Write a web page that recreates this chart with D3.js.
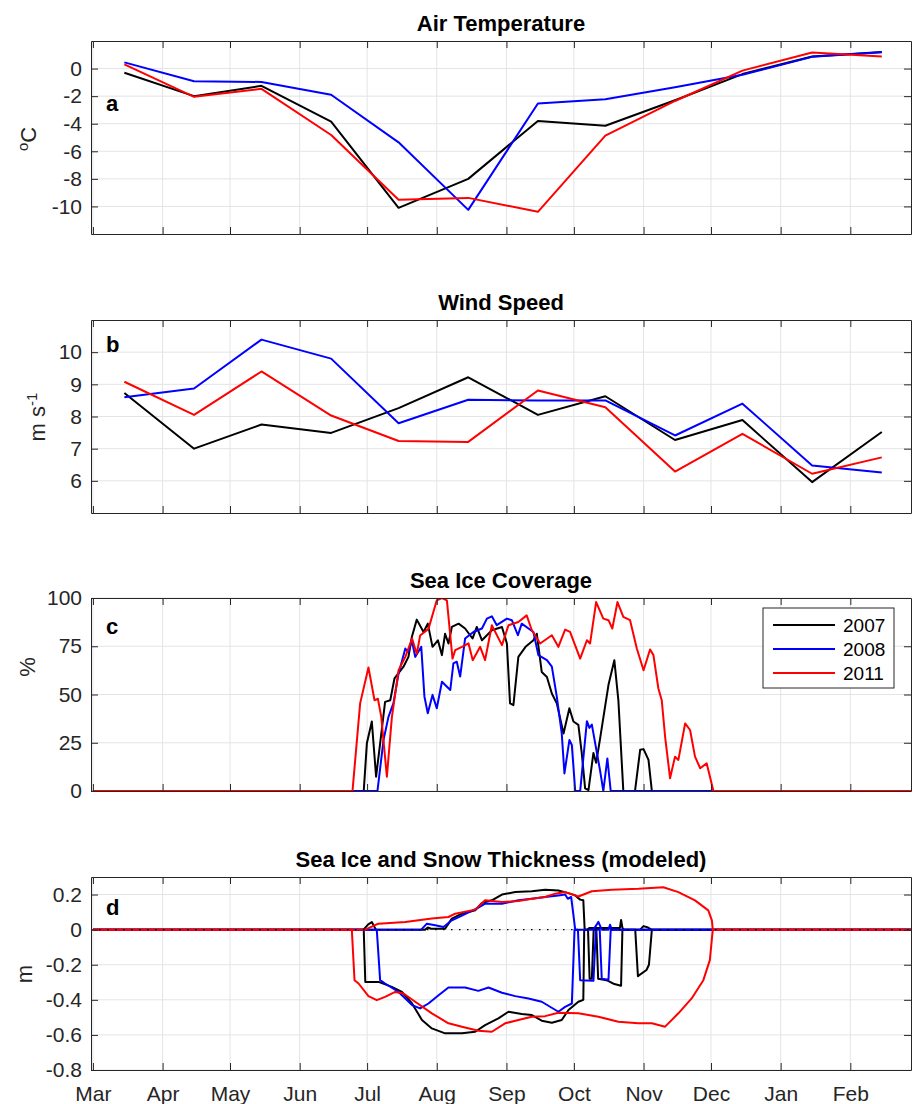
<!DOCTYPE html>
<html>
<head>
<meta charset="utf-8">
<title>Air temperature, wind, sea ice</title>
<style>
body { margin: 0; background: #fff; }
svg { font-family: "Liberation Sans", Arial, sans-serif; }
</style>
</head>
<body>
<svg id="chart"></svg>
<script src="https://cdnjs.cloudflare.com/ajax/libs/d3/7.8.5/d3.min.js"></script>
<script>
// months of the season, first day of each (days since Mar 1)
var months = ['Mar', 'Apr', 'May', 'Jun', 'Jul', 'Aug', 'Sep', 'Oct', 'Nov', 'Dec', 'Jan', 'Feb'];
var monthStart = [0, 31, 61, 92, 122, 153, 184, 214, 245, 275, 306, 337];
var years = ['2007', '2008', '2011'];
var colors = ['#000000', '#0000ff', '#ff0000'];

// monthly means (mid month)
var airT2007 = [-0.3, -2.0, -1.25, -3.85, -10.1, -8.0, -3.8, -4.15, -2.3, -0.4, 0.88, 1.2];
var airT2008 = [0.45, -0.92, -0.97, -1.9, -5.35, -10.25, -2.53, -2.22, -1.35, -0.45, 0.85, 1.18];
var airT2011 = [0.3, -2.05, -1.47, -4.82, -9.52, -9.38, -10.39, -4.87, -2.35, -0.15, 1.16, 0.87];

var wind2007 = [8.73, 7.0, 7.75, 7.49, 8.26, 9.22, 8.05, 8.63, 7.27, 7.89, 5.96, 7.52];
var wind2008 = [8.6, 8.87, 10.39, 9.8, 7.79, 8.52, 8.5, 8.5, 7.41, 8.4, 6.48, 6.26];
var wind2011 = [9.08, 8.05, 9.4, 8.03, 7.24, 7.21, 8.81, 8.29, 6.29, 7.46, 6.22, 6.73];

// sea ice coverage, [day since Mar 1, %]
var ice2007 = [[0,0],[120.5,0],[121.9,24.7],[124.1,36],[126,7.4],[127.8,24.7],[130,46.2],[132.3,47],[134.2,58.4],[138.2,64.4],[140.4,69.5],[141.9,79.8],[144.1,88.8],[147.1,82.4],[149,86.7],[151.1,74.7],[153.5,78.1],[155.3,70.4],[156.7,81.5],[158.2,76.4],[159.7,85],[162.7,86.7],[165.6,84.2],[168.9,79],[170.8,85],[173.1,78.1],[177.5,83.3],[182,85],[184.2,76.4],[185.6,45.4],[187.1,44.5],[189.3,69.5],[192.5,74.7],[196,78.1],[197.5,81.5],[199.7,61.7],[202,59.1],[204.2,50.5],[206.4,45.4],[209.4,29.8],[212,42.9],[213.8,36],[216,34.3],[217.5,19.7],[219,1.4],[220.5,0.5],[222.7,19.7],[223.9,14.6],[225.7,27.4],[227.9,43.8],[229.4,55],[232,67.8],[233.8,47],[236,0],[241.2,0],[243.5,21.4],[245,21.7],[247.2,16.1],[248.7,0],[364,0]];
var ice2008 = [[0,0],[126.6,0],[129.3,26.4],[131.5,38.4],[133.7,45.4],[136,60.8],[139,73.8],[140.4,72],[141.9,78.1],[143.4,69.5],[146.1,74.7],[147.5,49],[149,40.3],[151.1,49.8],[153,42.9],[155.3,56.6],[159,52.3],[160.4,66.1],[161.9,67],[163.4,59.3],[165.6,79],[169.3,82.4],[173.1,84.2],[175.3,89.3],[177.5,90.5],[179.7,85.9],[184.2,89.3],[186.4,88.5],[189.1,80.7],[190.8,86.7],[196,82.4],[198.2,70.4],[202,67.8],[204.2,64.4],[206.4,48.9],[208.6,29.8],[209.8,9.1],[212,26.4],[213.1,23.8],[214.6,0],[216.8,0],[219.8,36.2],[220.9,32.7],[222,34.4],[225.7,10.3],[227.1,0],[228.9,16.9],[230.4,0],[364,0]];
var ice2011 = [[0,0],[115.5,0],[118.9,45.4],[122.6,64],[125.3,47],[126.8,47.8],[128.3,38.4],[130.8,7.4],[133,38],[136,62.6],[139,69.5],[142,79],[144.1,71],[145.6,80.6],[149.3,84],[153,98.8],[155.3,100],[157.5,98.8],[160,68.6],[161.2,73],[164.2,74.7],[167.1,76.5],[169,67.8],[172.3,74.7],[174.5,67.8],[177.5,85.9],[182,75.6],[184.9,85.9],[189.3,87.6],[193,91],[195.3,83.3],[199,76.4],[204.2,80.7],[207.1,74.7],[210.1,83.6],[212.3,82.4],[216.8,68.6],[219.8,78.1],[221.2,76.4],[223.9,97.9],[227.1,89.3],[229.4,88.5],[231.1,84.2],[233.4,97.9],[236,90.2],[239,88.5],[242,73.8],[245,62.6],[247.9,73.3],[249.4,70.4],[251.6,53.1],[253.1,47],[254.6,28.1],[256.8,6.6],[259,17.8],[260.5,16.1],[263.5,35],[265.7,31.6],[267.9,17.8],[270.2,11.8],[273.1,14.3],[276.1,0],[364,0]];

// modeled thickness, [day, m]: snow on top (+), ice below (-)
var top2007 = [[0,0],[120.4,0],[122.5,0.03],[124.1,0.043],[125.9,0],[147.8,0],[149,0.012],[150.5,0.005],[156.7,0.005],[159.7,0.063],[164.2,0.091],[170.1,0.11],[173.1,0.152],[177.5,0.167],[182,0.2],[187.9,0.214],[195.3,0.219],[201.2,0.227],[207.1,0.223],[211.6,0.208],[214.6,0.195],[216.8,0.171],[218.2,0.167],[218.8,0],[220,0],[221,0.01],[234.5,0.01],[235,0.055],[235.6,0.01],[236.3,0],[243.5,0],[245,0.02],[247,0.012],[248.5,0],[364,0]];
var bot2007 = [[0,0],[120.5,0],[121.2,-0.298],[127.1,-0.298],[133,-0.326],[137.5,-0.355],[142,-0.421],[146.4,-0.515],[150.8,-0.563],[156.7,-0.591],[164.2,-0.591],[170.1,-0.582],[174.5,-0.544],[180.4,-0.506],[184.9,-0.468],[190.8,-0.481],[195.3,-0.487],[199.7,-0.519],[204.2,-0.531],[208.6,-0.515],[211.6,-0.458],[216,-0.411],[218.2,-0.4],[218.6,0],[220.3,0],[221,-0.28],[222,-0.28],[222.8,0],[224,0],[224.8,-0.28],[229,-0.29],[232,-0.31],[235,-0.32],[235.6,0],[241.3,0],[242.5,-0.265],[246.3,-0.23],[247.4,-0.2],[248.7,0],[364,0]];
var top2008 = [[0,0],[146.1,0],[148.6,0.034],[152.3,0.025],[156,0.015],[159.7,0.053],[164.2,0.08],[171.5,0.125],[174.5,0.148],[182,0.148],[189.3,0.167],[195.3,0.176],[201.2,0.186],[207.1,0.195],[210.1,0.2],[211.3,0.176],[212.8,0.186],[214.6,0],[222.7,0],[224.9,0.044],[226.4,0],[229.4,0],[230.1,0.028],[230.9,0],[364,0]];
var bot2008 = [[0,0],[126.3,0],[127.8,-0.288],[130,-0.307],[136,-0.355],[142,-0.43],[145.6,-0.449],[149.3,-0.421],[153.8,-0.374],[158.2,-0.33],[165.6,-0.33],[171.5,-0.349],[176,-0.33],[182,-0.36],[187.9,-0.379],[193.8,-0.392],[199.7,-0.411],[207.1,-0.468],[210.1,-0.44],[213.1,-0.421],[214.3,0],[215.8,0],[216.8,-0.288],[222.7,-0.292],[223.8,0],[225.5,0],[226.4,-0.28],[229.4,-0.285],[230.4,0],[364,0]];
var top2011 = [[0,0],[121.2,0],[127,0.034],[139,0.044],[150.8,0.063],[158.2,0.072],[161.2,0.091],[170.1,0.114],[174.5,0.167],[182,0.157],[189.3,0.163],[195.3,0.176],[201.2,0.186],[205.7,0.205],[210.1,0.214],[216,0.189],[222,0.219],[230.9,0.227],[242.7,0.233],[253.8,0.242],[260.5,0.214],[267.9,0.167],[273.8,0.11],[275.4,0.053],[275.8,0],[364,0]];
var bot2011 = [[0,0],[115.2,0],[116.4,-0.288],[118.2,-0.307],[122.6,-0.379],[126.3,-0.402],[130,-0.383],[134.5,-0.355],[138.2,-0.364],[143.4,-0.411],[150.8,-0.477],[158.2,-0.534],[164.2,-0.553],[171.5,-0.576],[177.5,-0.582],[183.4,-0.534],[189.3,-0.515],[195.3,-0.496],[201.2,-0.493],[207.1,-0.474],[216,-0.477],[224.9,-0.496],[233.8,-0.525],[242.7,-0.534],[248.7,-0.534],[254.6,-0.553],[260.5,-0.477],[266.4,-0.392],[271.6,-0.288],[274.5,-0.174],[275.8,0],[364,0]];

var width = 917, height = 1104;
var left = 91, right = 911, panelH = 193;
var axisColor = '#262626', gridColor = '#e4e4e4';

var svg = d3.select('#chart').attr('width', width).attr('height', height);

var x = d3.scaleLinear().domain([-0.85, 364]).range([left, right]);

// plain numbers with a hyphen minus, like "-0.2", "0", "10"
function plain(d) { return String(+d.toFixed(2)); }

function panel(top, domain, ticks, title, letter, letterDy, showX) {
  var bottom = top + panelH;
  var y = d3.scaleLinear().domain(domain).range([bottom, top]);
  var g = svg.append('g');

  // grid
  g.selectAll('.vg').data(monthStart).enter().append('line')
    .attr('x1', function(d) { return x(d); }).attr('x2', function(d) { return x(d); })
    .attr('y1', top).attr('y2', bottom)
    .attr('stroke', gridColor).attr('stroke-width', 1);
  g.selectAll('.hg').data(ticks).enter().append('line')
    .attr('x1', left).attr('x2', right)
    .attr('y1', function(d) { return y(d); }).attr('y2', function(d) { return y(d); })
    .attr('stroke', gridColor).attr('stroke-width', 1);

  var clipId = 'clip' + top;
  svg.append('clipPath').attr('id', clipId).append('rect')
    .attr('x', left).attr('y', top).attr('width', right - left).attr('height', panelH);
  var plot = g.append('g').attr('clip-path', 'url(#' + clipId + ')');

  // axes, ticks inward on all four sides
  g.append('g').attr('transform', 'translate(' + left + ',0)')
    .call(d3.axisLeft(y).tickValues(ticks).tickFormat(plain)
      .tickSizeInner(-7).tickSizeOuter(0).tickPadding(9));
  g.append('g').attr('transform', 'translate(' + right + ',0)')
    .call(d3.axisRight(y).tickValues(ticks).tickSizeInner(-7).tickSizeOuter(0).tickFormat(''));
  g.append('g').attr('transform', 'translate(0,' + top + ')')
    .call(d3.axisTop(x).tickValues(monthStart).tickSizeInner(-7).tickSizeOuter(0).tickFormat(''));
  var xb = d3.axisBottom(x).tickValues(monthStart).tickSizeInner(-7).tickSizeOuter(0).tickPadding(16);
  if (showX) xb.tickFormat(function(d, i) { return months[i]; });
  else xb.tickFormat('');
  g.append('g').attr('transform', 'translate(0,' + bottom + ')').call(xb);

  g.selectAll('.domain, .tick line').attr('stroke', axisColor);
  g.selectAll('.tick text').attr('fill', axisColor).attr('font-size', 21)
    .attr('font-family', '"Liberation Sans", Arial, sans-serif');

  svg.append('text').attr('x', (left + right) / 2).attr('y', top - 10)
    .attr('text-anchor', 'middle').attr('font-weight', 'bold').attr('font-size', 22)
    .text(title);
  svg.append('text').attr('x', 106).attr('y', top + letterDy)
    .attr('font-weight', 'bold').attr('font-size', 22).text(letter);

  return { y: y, plot: plot, g: g };
}

function drawMonthly(p, series) {
  var line = d3.line()
    .x(function(d, i) { return x(monthStart[i] + 14); })
    .y(function(d) { return p.y(d); });
  series.forEach(function(s, k) {
    p.plot.append('path').datum(s)
      .attr('fill', 'none').attr('stroke', colors[k]).attr('stroke-width', 2)
      .attr('stroke-linejoin', 'round').attr('d', line);
  });
}

function drawDaily(p, series, cols) {
  var line = d3.line()
    .x(function(d) { return x(d[0]); })
    .y(function(d) { return p.y(d[1]); });
  series.forEach(function(s, k) {
    p.plot.append('path').datum(s)
      .attr('fill', 'none').attr('stroke', cols[k]).attr('stroke-width', 2)
      .attr('stroke-linejoin', 'round').attr('d', line);
  });
}

function yLabel(xPos, yPos, build) {
  var t = svg.append('text')
    .attr('transform', 'translate(' + xPos + ',' + yPos + ') rotate(-90)')
    .attr('text-anchor', 'middle').attr('font-size', 22).attr('fill', axisColor);
  build(t);
}

// a: air temperature
var pa = panel(41, [-12, 2], [-10, -8, -6, -4, -2, 0], 'Air Temperature', 'a', 70, false);
drawMonthly(pa, [airT2007, airT2008, airT2011]);
yLabel(36, 139, function(t) {
  t.append('tspan').attr('font-size', 15).attr('dy', -8).text('o');
  t.append('tspan').attr('dy', 8).text('C');
});

// b: wind speed
var pb = panel(320, [5, 11], [6, 7, 8, 9, 10], 'Wind Speed', 'b', 32, false);
drawMonthly(pb, [wind2007, wind2008, wind2011]);
yLabel(45, 417, function(t) {
  t.append('tspan').text('m s');
  t.append('tspan').attr('font-size', 15).attr('dy', -8).text('-1');
});

// c: sea ice coverage
var pc = panel(598, [0, 100], [0, 25, 50, 75, 100], 'Sea Ice Coverage', 'c', 36, false);
drawDaily(pc, [ice2007, ice2008, ice2011], colors);
yLabel(35, 667, function(t) { t.text('%'); });

var leg = svg.append('g').attr('transform', 'translate(763,608)');
leg.append('rect').attr('width', 131).attr('height', 80)
  .attr('fill', '#fff').attr('stroke', axisColor).attr('stroke-width', 1);
years.forEach(function(yr, k) {
  var ly = 17 + k * 24;
  leg.append('line').attr('x1', 10).attr('x2', 72).attr('y1', ly).attr('y2', ly)
    .attr('stroke', colors[k]).attr('stroke-width', 2);
  leg.append('text').attr('x', 80).attr('y', ly).attr('dy', '0.36em')
    .attr('font-size', 19).attr('fill', '#000').text(yr);
});

// d: thickness
var pd = panel(877, [-0.8, 0.3], [-0.8, -0.6, -0.4, -0.2, 0, 0.2], 'Sea Ice and Snow Thickness (modeled)', 'd', 38, true);
drawDaily(pd, [top2007, bot2007, top2008, bot2008, top2011, bot2011],
  [colors[0], colors[0], colors[1], colors[1], colors[2], colors[2]]);
pd.plot.append('line')
  .attr('x1', left).attr('x2', right).attr('y1', pd.y(0)).attr('y2', pd.y(0))
  .attr('stroke', '#000').attr('stroke-width', 1.3).attr('stroke-dasharray', '1.5,6.5');
yLabel(32, 974, function(t) { t.text('m'); });
</script>
</body>
</html>
